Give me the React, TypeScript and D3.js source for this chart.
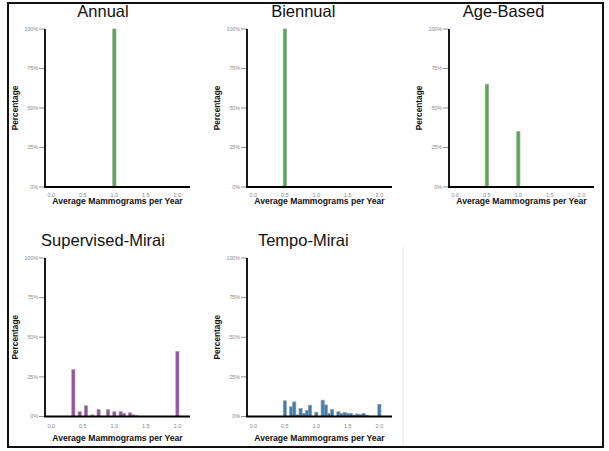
import * as d3 from 'd3';

// bin centres (mammograms / year) and share of women (%)
const panelTitles = ["Annual", "Biennual", "Age-Based", "Supervised-Mirai", "Tempo-Mirai"];
const annualX = [1.0];
const annualPct = [100];
const biennialX = [0.5];
const biennialPct = [100];
const ageX = [0.5, 1.0];
const agePct = [65, 35];
const supervisedX = [0.35, 0.45, 0.55, 0.65, 0.75, 0.9, 1.0, 1.1, 1.15, 1.25, 1.3, 1.35, 2.0];
const supervisedPct = [29.5, 3, 6.8, 1, 4.3, 4.3, 3, 3, 2, 2.3, 1, 0.5, 41];
const tempoX = [0.5, 0.6, 0.65, 0.7, 0.75, 0.8, 0.85, 0.9, 1.0, 1.1, 1.15, 1.2, 1.25, 1.35, 1.4, 1.45, 1.5, 1.55, 1.6, 1.65, 1.7, 1.75, 1.8, 2.0];
const tempoPct = [9.9, 6.1, 9.2, 1, 5, 2, 3.9, 7.1, 2.7, 10.3, 7.3, 2, 4.4, 3, 1.8, 2.5, 1.8, 1.8, 0.9, 1.6, 1.2, 2, 0.8, 7.7];
const xTicks = [0, 0.5, 1.0, 1.5, 2.0];
const yTicks = [0, 25, 50, 75, 100];

const green = "#4daf4a";
const purple = "#984ea3";
const blue = "#377eb8";

const panels = [
  { title: panelTitles[0], xs: annualX, ys: annualPct, color: green },
  { title: panelTitles[1], xs: biennialX, ys: biennialPct, color: green },
  { title: panelTitles[2], xs: ageX, ys: agePct, color: green },
  { title: panelTitles[3], xs: supervisedX, ys: supervisedPct, color: purple },
  { title: panelTitles[4], xs: tempoX, ys: tempoPct, color: blue },
];

const rows = [
  { top: 29, bottom: 187, titleY: 17, tickY: 196.5, labelY: 204 },
  { top: 258, bottom: 416.5, titleY: 246, tickY: 428, labelY: 441 },
];

const font = "'Liberation Sans', Arial, Helvetica, sans-serif";
const binW = 0.05;

function Panel({ p, col, row }) {
  const r = rows[row];
  const ax = 45 + 202 * col;
  const titleX = 103 + 200.3 * col;
  const x = d3.scaleLinear().domain([-0.1, 2.2]).range([ax, ax + 145]);
  const y = d3.scaleLinear().domain([0, 100]).range([r.bottom, r.top]);
  const fmt = d3.format(".1f");
  return (
    <g>
      <text x={titleX} y={r.titleY} textAnchor="middle" fontSize={16.5} fontFamily={font} fill="#111">{p.title}</text>
      {p.xs.map((c, i) => (
        <rect key={i}
          x={x(c - binW / 2)} y={y(p.ys[i])}
          width={x(c + binW / 2) - x(c - binW / 2)}
          height={y(0) - y(p.ys[i])}
          fill={p.color} stroke="#9a9a9a" strokeWidth={0.7} />
      ))}
      {yTicks.map(t => (
        <g key={t}>
          <line x1={ax - 6} x2={ax} y1={y(t)} y2={y(t)} stroke="#777" strokeWidth={0.8} />
          <text x={ax - 7} y={y(t)} dy="0.35em" textAnchor="end" fontSize={5.3} fontFamily={font} fill="#888">{t}%</text>
        </g>
      ))}
      {xTicks.map(t => (
        <text key={t} x={x(t)} y={r.tickY} textAnchor="middle" fontSize={5.5} fontFamily={font} fill="#888">{fmt(t)}</text>
      ))}
      <line x1={ax} x2={ax} y1={r.top} y2={r.bottom} stroke="#000" strokeWidth={1.8} />
      <line x1={ax - 1} x2={x(2.2)} y1={r.bottom} y2={r.bottom} stroke="#000" strokeWidth={1.8} />
      <text transform={`translate(${ax - 27},${(r.top + r.bottom) / 2}) rotate(-90)`} textAnchor="middle"
        fontSize={8.3} fontWeight="bold" fontFamily={font} fill="#111">Percentage</text>
      <text x={ax + 72.5} y={r.labelY} textAnchor="middle" fontSize={8.6} fontWeight="bold" fontFamily={font} fill="#111">
        Average Mammograms per Year
      </text>
    </g>
  );
}

export default function App() {
  return (
    <svg width={609} height={451} style={{ position: 'absolute', left: 0, top: 0, background: '#fff' }}>
      <rect x={0} y={0} width={609} height={451} fill="#fff" />
      {panels.map((p, i) => (
        <Panel key={p.title} p={p} col={i % 3} row={Math.floor(i / 3)} />
      ))}
      <line x1={403} x2={403} y1={247} y2={446} stroke="#e6e6e6" strokeWidth={1} />
      <rect x={8} y={3} width={595} height={444} fill="none" stroke="#111" strokeWidth={2} />
    </svg>
  );
}
